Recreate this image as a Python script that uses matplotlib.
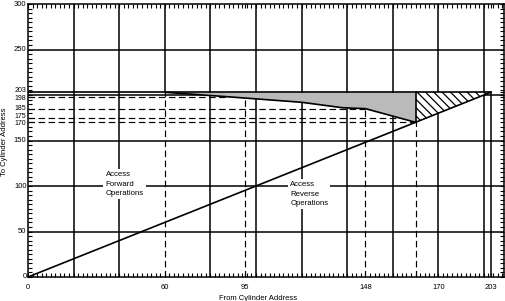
import matplotlib
matplotlib.use('Agg')
import matplotlib.pyplot as plt
import matplotlib.transforms as mtransforms
from matplotlib.ticker import MultipleLocator

plt.rcParams['font.family'] = ['Liberation Sans', 'DejaVu Sans']
plt.rcParams['hatch.linewidth'] = 0.9

# ---- data ----
x_end = 203
boundary_x = [60, 88, 120, 138, 148, 170]
boundary_y = [203, 198, 192, 186, 185, 170]
dash_v_x = [60, 95, 148, 170]
dash_v_top = [203, 198, 185, 170]
dash_h_y = [198, 185, 175, 170]
dash_h_end = [88, 148, 163, 170]
xtick_pos = [0, 60, 95, 148, 180, 203]
xtick_labels = ['0', '60', '95', '148', '170', '203']
ytick_vals = [0, 50, 100, 150, 170, 175, 185, 198, 203, 250, 300]
# small vertical nudges (pixels) for crowded y labels
ylabel_nudge = {203: 1.5, 198: -1.5, 185: 0, 175: 1.0, 170: -1.5}
vgrid = [20, 40, 80, 100, 120, 140, 160, 180, 200]
hgrid = [50, 100, 150, 200, 250]

fig = plt.figure(figsize=(5.05, 3.01), dpi=100)
ax = fig.add_axes([28/505, 1-277/301, 476/505, 273/301])
ax.set_xlim(0, 208.8)
ax.set_ylim(0, 300)

lw = 1.1
for gx in vgrid:
    ax.axvline(gx, color='k', lw=lw, zorder=1)
ax.plot([60, 60], [x_end, 300], color='k', lw=lw, zorder=1)
for gy in hgrid:
    ax.axhline(gy, color='k', lw=lw, zorder=1)

# main lines
ax.plot([0, x_end], [0, x_end], color='k', lw=1.2, zorder=5)
ax.plot([0, x_end], [x_end, x_end], color='k', lw=1.2, zorder=5)
ax.plot([x_end, x_end], [0, x_end], color='k', lw=1.1, zorder=5)

# shaded region
ax.fill_between(boundary_x, boundary_y, x_end, color='#bababa', lw=0, zorder=3)
ax.plot(boundary_x, boundary_y, color='k', lw=1.2, zorder=5)
ax.plot([170, 170], [170, x_end], color='k', lw=1.2, zorder=5)

# hatched triangle
ax.fill([170, 170, x_end], [170, x_end, x_end], facecolor='white',
        edgecolor='k', hatch='\\\\\\\\', lw=0, zorder=3)

# dashed reference lines
dash = (0, (5.5, 3.0))
for x, t in zip(dash_v_x, dash_v_top):
    ax.plot([x, x], [0, t], color='k', lw=0.85, ls=dash, zorder=4)
for y, e in zip(dash_h_y, dash_h_end):
    ax.plot([0, e], [y, y], color='k', lw=0.85, ls=dash, zorder=4)

ax.text(34, 102, 'Access\nForward\nOperations', fontsize=5.6, va='center', ha='left',
        linespacing=1.45, zorder=6,
        bbox=dict(facecolor='white', edgecolor='none', pad=1.5))
ax.text(115, 91, 'Access\nReverse\nOperations', fontsize=5.6, va='center', ha='left',
        linespacing=1.45, zorder=6,
        bbox=dict(facecolor='white', edgecolor='none', pad=1.5))

ax.set_xticks(xtick_pos, xtick_labels)
ax.set_yticks(ytick_vals, [''] * len(ytick_vals))
ax.xaxis.set_minor_locator(MultipleLocator(2))
ax.yaxis.set_minor_locator(MultipleLocator(5))
ax.tick_params(which='both', direction='in', top=True, right=True, length=3,
               width=0.8, labelsize=5.5, pad=1)
ax.tick_params(axis='x', which='major', pad=5)
for s in ax.spines.values():
    s.set_linewidth(1.1)

# y tick labels drawn manually so crowded ones can be nudged
ytrans = mtransforms.blended_transform_factory(ax.transAxes, ax.transData)
for v in ytick_vals:
    dy = ylabel_nudge.get(v, 0) / 100.0
    off = mtransforms.ScaledTranslation(-1.5/100, dy, fig.dpi_scale_trans)
    fs = 5.0 if v in ylabel_nudge else 5.5
    ax.text(0, v, str(v), transform=ytrans + off, ha='right', va='center',
            fontsize=fs, clip_on=False)

fig.text(5/505, 1-142/301, 'To Cylinder Address', rotation=90, fontsize=5.5,
         ha='center', va='center')
fig.text(258/505, 1-295/301, 'From Cylinder Address', fontsize=5.5,
         ha='center', va='top')

fig.savefig('out.png', dpi=100)
